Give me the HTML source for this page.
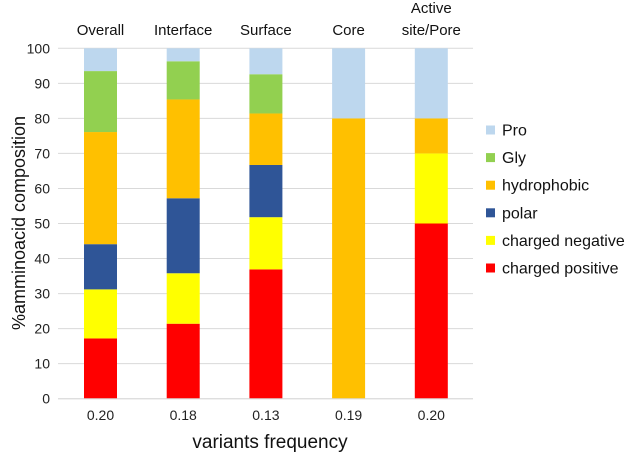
<!DOCTYPE html>
<html><head><meta charset="utf-8"><style>
body{margin:0;background:#fff;font-family:"Liberation Sans",sans-serif}
</style></head><body>
<svg id="c" width="630" height="455" style="font-family:'Liberation Sans',sans-serif"></svg>
<script>
const categories=["Overall","Interface","Surface","Core","Active site/Pore"];
const freqLabels=["0.20","0.18","0.13","0.19","0.20"];
const seriesNames=["charged positive","charged negative","polar","hydrophobic","Gly","Pro"];
const seriesColors=["#ff0000","#ffff00","#2f5597","#ffc000","#92d050","#bdd7ee"];
const chargedPositive=[17.2,21.4,36.9,0,50];
const chargedNegative=[14.0,14.4,14.9,0,20];
const polar=[12.9,21.4,14.9,0,0];
const hydrophobic=[32.0,28.2,14.7,80,10];
const gly=[17.4,10.9,11.2,0,0];
const pro=[6.5,3.7,7.4,20,20];
const yTicks=[0,10,20,30,40,50,60,70,80,90,100];
const series=[chargedPositive,chargedNegative,polar,hydrophobic,gly,pro];
const NS="http://www.w3.org/2000/svg";
const svg=document.getElementById('c');
const y0=398.7,pxu=3.504,x0=58,x1=473,step=82.7,bw=33,first=100.5;
const yS=v=>y0-v*pxu;
const xC=i=>first+i*step;
function mk(t,a,txt){const e=document.createElementNS(NS,t);for(const k in a)e.setAttribute(k,a[k]);if(txt!=null)e.textContent=txt;svg.appendChild(e);return e;}
yTicks.forEach(t=>{
 const g=mk('line',{x1:x0,x2:x1,y1:yS(t),y2:yS(t),stroke:'#d9d9d9','stroke-width':1});
 
 
 const l=mk('text',{x:50,y:yS(t)+5,'text-anchor':'end','font-size':14,fill:'#222'},t);
 
 
});
categories.forEach((c,i)=>{
 let acc=0;
 series.forEach((s,j)=>{
  const v=s[i];
  if(v>0){
   const r=mk('rect',{x:xC(i)-bw/2,y:yS(acc+v),width:bw,height:v*pxu,fill:seriesColors[j]});
   
   
  }
  acc+=v;
 });
 const f=mk('text',{x:xC(i),y:420,'text-anchor':'middle','font-size':14,fill:'#222'},freqLabels[i]);
 
 
 const parts=c==="Active site/Pore"?["Active","site/Pore"]:[c];
 parts.forEach((p,k)=>{
  const t=mk('text',{x:xC(i),y:(parts.length==2?13:35)+k*22,'text-anchor':'middle','font-size':15,fill:'#111'},p);
  
  
 });
});
const ax=mk('line',{x1:x0,x2:x1,y1:y0,y2:y0,stroke:'#d9d9d9','stroke-width':1});


const xt=mk('text',{x:270,y:448,'text-anchor':'middle','font-size':19,fill:'#111'},'variants frequency');


const yt=mk('text',{x:0,y:0,'text-anchor':'middle','font-size':18,fill:'#111',transform:'translate(25,223) rotate(-90)'},'%amminoacid composition');


for(let j=5;j>=0;j--){
 const row=5-j, yy=130+row*27.6;
 const s=mk('rect',{x:486,y:yy-4.5,width:9,height:9,fill:seriesColors[j]});
 
 
 const t=mk('text',{x:502,y:yy+5.5,'font-size':16,fill:'#111'},seriesNames[j]);
 
 
}
</script>
</body></html>
